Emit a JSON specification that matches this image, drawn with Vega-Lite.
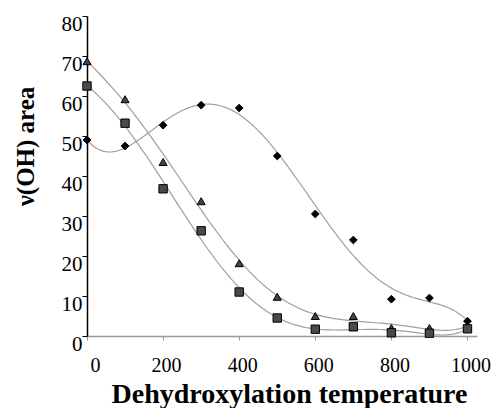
{
  "$schema": "https://vega.github.io/schema/vega-lite/v6.json",
  "width": 390,
  "height": 320,
  "autosize": "none",
  "padding": {"left": 87, "top": 16, "right": 22, "bottom": 72},
  "background": "white",
  "config": {
    "view": {"stroke": null},
    "font": "Liberation Serif"
  },
  "data": {
    "values": [
      {"s": "A", "t": 0, "v": 49},
      {"s": "A", "t": 100, "v": 47.5},
      {"s": "A", "t": 200, "v": 52.7},
      {"s": "A", "t": 300, "v": 57.7},
      {"s": "A", "t": 400, "v": 57},
      {"s": "A", "t": 500, "v": 45},
      {"s": "A", "t": 600, "v": 30.5},
      {"s": "A", "t": 700, "v": 24},
      {"s": "A", "t": 800, "v": 9.2},
      {"s": "A", "t": 900, "v": 9.5},
      {"s": "A", "t": 1000, "v": 3.7},
      {"s": "B", "t": 0, "v": 68.7},
      {"s": "B", "t": 100, "v": 59.2},
      {"s": "B", "t": 200, "v": 43.5},
      {"s": "B", "t": 300, "v": 33.7},
      {"s": "B", "t": 400, "v": 18.2},
      {"s": "B", "t": 500, "v": 9.8},
      {"s": "B", "t": 600, "v": 5},
      {"s": "B", "t": 700, "v": 5},
      {"s": "B", "t": 800, "v": 2},
      {"s": "B", "t": 900, "v": 2},
      {"s": "B", "t": 1000, "v": 2.5},
      {"s": "C", "t": 0, "v": 62.5},
      {"s": "C", "t": 100, "v": 53.2},
      {"s": "C", "t": 200, "v": 36.8},
      {"s": "C", "t": 300, "v": 26.3},
      {"s": "C", "t": 400, "v": 11},
      {"s": "C", "t": 500, "v": 4.5},
      {"s": "C", "t": 600, "v": 1.7},
      {"s": "C", "t": 700, "v": 2.3},
      {"s": "C", "t": 800, "v": 0.8},
      {"s": "C", "t": 900, "v": 0.7},
      {"s": "C", "t": 1000, "v": 1.8}
    ]
  },
  "encoding": {
    "x": {
      "field": "t", "type": "quantitative",
      "scale": {"domain": [0, 1025], "nice": false, "zero": true},
      "axis": {
        "values": [0, 200, 400, 600, 800, 1000],
        "format": "d",
        "title": "Dehydroxylation temperature",
        "titleFont": "Liberation Serif", "titleFontSize": 28, "titleFontWeight": "bold", "titleColor": "black",
        "titleX": 202, "titleY": 58, "titleBaseline": "middle", "titleAlign": "center",
        "labelFont": "Liberation Serif", "labelFontSize": 20, "labelColor": "black",
        "labelPadding": 15, "labelOffset": 3,
        "domainColor": "#999999", "domainWidth": 1.5,
        "tickColor": "#999999", "tickSize": 4, "tickWidth": 1,
        "grid": false
      }
    },
    "y": {
      "field": "v", "type": "quantitative",
      "scale": {"domain": [0, 80], "nice": false},
      "axis": {
        "values": [0, 10, 20, 30, 40, 50, 60, 70, 80],
        "title": "ν(OH) area",
        "titleFont": "Liberation Serif", "titleFontSize": 25, "titleFontWeight": "bold", "titleColor": "black",
        "titleX": -62, "titleY": 130, "titleBaseline": "middle", "titleAlign": "center", "titleAngle": -90,
        "labelFont": "Liberation Serif", "labelFontSize": 21, "labelColor": "black",
        "labelPadding": 0, "labelOffset": 8,
        "domainColor": "black", "domainWidth": 1.5,
        "tickColor": "black", "tickSize": 5, "tickWidth": 1,
        "grid": false
      }
    }
  },
  "layer": [
    {
      "transform": [
        {"regression": "v", "on": "t", "groupby": ["s"], "method": "poly", "order": 6, "extent": [0, 1000]}
      ],
      "mark": {"type": "line", "color": "#a0a0a0", "strokeWidth": 1.2},
      "encoding": {"detail": {"field": "s"}}
    },
    {
      "mark": {"type": "point", "filled": true, "strokeWidth": 1, "stroke": "black", "opacity": 1},
      "encoding": {
        "shape": {"field": "s", "type": "nominal", "scale": {"domain": ["A", "B", "C"], "range": ["diamond", "triangle-up", "square"]}, "legend": null},
        "color": {"field": "s", "type": "nominal", "scale": {"domain": ["A", "B", "C"], "range": ["black", "#444444", "#4a4a4a"]}, "legend": null},
        "size": {"field": "s", "type": "nominal", "scale": {"domain": ["A", "B", "C"], "range": [60, 70, 75]}, "legend": null}
      }
    }
  ]
}
